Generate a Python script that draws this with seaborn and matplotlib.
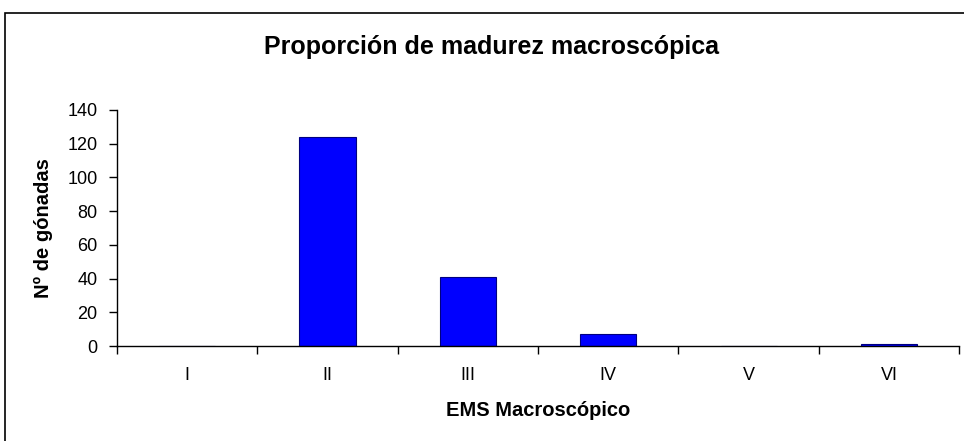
import matplotlib
matplotlib.use("Agg")
import matplotlib.pyplot as plt
import seaborn as sns
import pandas as pd
import numpy as np
from matplotlib.patches import Rectangle

# Datos
estadios = ["I", "II", "III", "IV", "V", "VI"]
n_gonadas = [0, 124, 41, 7, 0, 1]

sns.set_style("white")
plt.rcParams["font.family"] = ["Liberation Sans", "DejaVu Sans"]
plt.rcParams["text.color"] = "black"
plt.rcParams["axes.labelcolor"] = "black"
plt.rcParams["xtick.color"] = "black"
plt.rcParams["ytick.color"] = "black"

df = pd.DataFrame({"EMS": estadios, "N": n_gonadas})

fig = plt.figure(figsize=(9.64, 4.41), dpi=100)
ax = fig.add_axes([0.1214, 0.2154, 0.8736, 0.5352])

sns.barplot(data=df, x="EMS", y="N", color="#0000FF", saturation=1,
            width=0.4, edgecolor="#000080", linewidth=0.8, ax=ax)

ax.set_xlim(-0.5, len(estadios) - 0.5)
ax.set_ylim(0, 140)
ax.set_yticks(np.arange(0, 141, 20))
ax.tick_params(axis="y", length=6, width=1, labelsize=13, pad=8, direction="out", left=True)
ax.tick_params(axis="x", which="major", length=0, labelsize=13, pad=15)
ax.set_xticks(np.arange(-0.5, len(estadios), 1), minor=True)
ax.tick_params(axis="x", which="minor", length=6, width=1, direction="out", bottom=True)

for s in ["top", "right"]:
    ax.spines[s].set_visible(False)
for s in ["left", "bottom"]:
    ax.spines[s].set_color("black")
    ax.spines[s].set_linewidth(1)

ax.set_xlabel("EMS Macroscópico", fontsize=14.5, fontweight="bold", labelpad=12)
ax.set_ylabel("Nº de gónadas", fontsize=14.5, fontweight="bold", labelpad=10)
fig.text(492 / 964, 1 - 47 / 441, "Proporción de madurez macroscópica", ha="center",
         va="center", fontsize=18, fontweight="bold")

# marco del área del gráfico
fig.patches.append(Rectangle((5 / 964, -0.1), 1.2, 1 - 13 / 441 + 0.1,
                             transform=fig.transFigure, fill=False,
                             edgecolor="black", linewidth=1.2))

fig.savefig("out.png", dpi=100)
